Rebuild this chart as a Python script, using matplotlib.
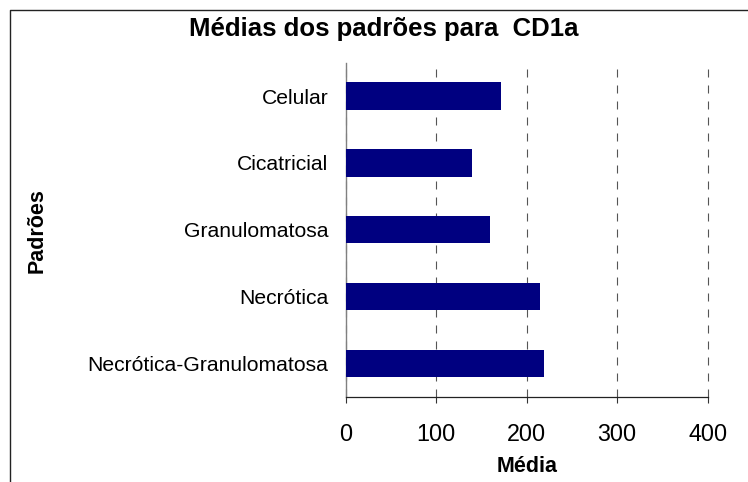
import matplotlib
matplotlib.use("Agg")
import matplotlib.pyplot as plt
from matplotlib.lines import Line2D

plt.rcParams['font.family'] = ['Liberation Sans', 'DejaVu Sans']

# Data
categorias = ["Celular", "Cicatricial", "Granulomatosa", "Necrótica", "Necrótica-Granulomatosa"]
medias = [172, 140, 159, 215, 219]
x_ticks = [0, 100, 200, 300, 400]

titulo = "Médias dos padrões para  CD1a"
rotulo_x = "Média"
rotulo_y = "Padrões"

W, H = 748, 482
fig = plt.figure(figsize=(W / 100, H / 100), dpi=100)
ax = fig.add_axes([345.7 / W, 1 - 396.7 / H, 362.0 / W, 334.1 / H])

pos = list(range(len(categorias)))
ax.barh(pos, medias, height=0.41, color="#000080", zorder=3)

ax.set_xlim(0, 400)
ax.set_ylim(len(categorias) - 0.5, -0.5)
ax.set_xticks(x_ticks)
ax.set_xticklabels([str(t) for t in x_ticks], fontsize=16.8)
ax.set_yticks(pos)
ax.set_yticklabels(categorias, fontsize=15.2)
ax.tick_params(axis="y", length=0, pad=12.5)
ax.tick_params(axis="x", direction="out", length=4.5, width=0.8, color="#333333", pad=14.5)

ax.grid(axis="x", color="#555555", linestyle=(0, (7.2, 7.2)), linewidth=0.8, zorder=1)
for gl in ax.get_xgridlines():
    gl.set_clip_on(False)
for s in ("top", "right"):
    ax.spines[s].set_visible(False)
ax.spines["left"].set_color("#808080")
ax.spines["left"].set_linewidth(1.0)
ax.spines["bottom"].set_color("#222222")
ax.spines["bottom"].set_linewidth(0.9)

ax.set_xlabel(rotulo_x, fontsize=15.5, fontweight="bold", labelpad=7)
fig.text(37 / W, 1 - 231 / H, rotulo_y, rotation=90, ha="center", va="center",
         fontsize=15.5, fontweight="bold")
fig.text(384 / W, 1 - 29 / H, titulo, ha="center", va="center",
         fontsize=18.5, fontweight="bold")

# Outer frame: top and left edges only
fig.add_artist(Line2D([10 / W, 10 / W, 1.0], [0.0, 1 - 10 / H, 1 - 10 / H],
                      transform=fig.transFigure, color="#222222", linewidth=1.0))

fig.savefig("out.png", dpi=100)
